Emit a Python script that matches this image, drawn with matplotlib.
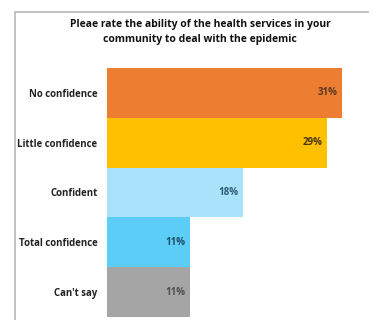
import matplotlib.pyplot as plt
from matplotlib.lines import Line2D

categories = ["No confidence", "Little confidence", "Confident", "Total confidence", "Can't say"]
values = [31, 29, 18, 11, 11]
colors = ["#ED7D31", "#FFC000", "#A9E2FA", "#5BCDF7", "#A5A5A5"]
value_colors = ["#5a3a20", "#4a3a10", "#2f5d7a", "#1f4e6e", "#505050"]
title = "Pleae rate the ability of the health services in your\ncommunity to deal with the epidemic"

plt.rcParams['font.family'] = ['Open Sans', 'DejaVu Sans']

fig = plt.figure(figsize=(3.72, 3.2), dpi=100)

# gray frame: left and top edges only
x0, y0 = 15 / 372, 1 - 12 / 320
fig.add_artist(Line2D([x0, x0, 0.99], [0, y0, y0], transform=fig.transFigure,
                      color="#b8b8b8", linewidth=1.2))

ax = fig.add_axes([107 / 372, 3 / 320, 265 / 372, 249 / 320])
y = list(range(len(categories)))
ax.barh(y, values, height=1.0, color=colors, edgecolor="none")
ax.set_ylim(len(categories) - 0.5, -0.5)
ax.set_xlim(0, 35)

for i, v in enumerate(values):
    ax.text(v - 0.6, i, f"{v}%", ha="right", va="center",
            fontsize=7, fontweight="bold", color=value_colors[i])

ax.set_yticks(y)
ax.set_yticklabels(categories, fontsize=6.9, fontweight="bold", color="#222222")
ax.tick_params(axis="y", length=0, pad=7)
ax.set_xticks([])
for s in ax.spines.values():
    s.set_visible(False)

fig.text(200 / 372, 1 - 32 / 320, title, ha="center", va="center",
         fontsize=7.45, fontweight="bold", color="#111111", linespacing=1.55)

fig.savefig("out.png", dpi=100)
